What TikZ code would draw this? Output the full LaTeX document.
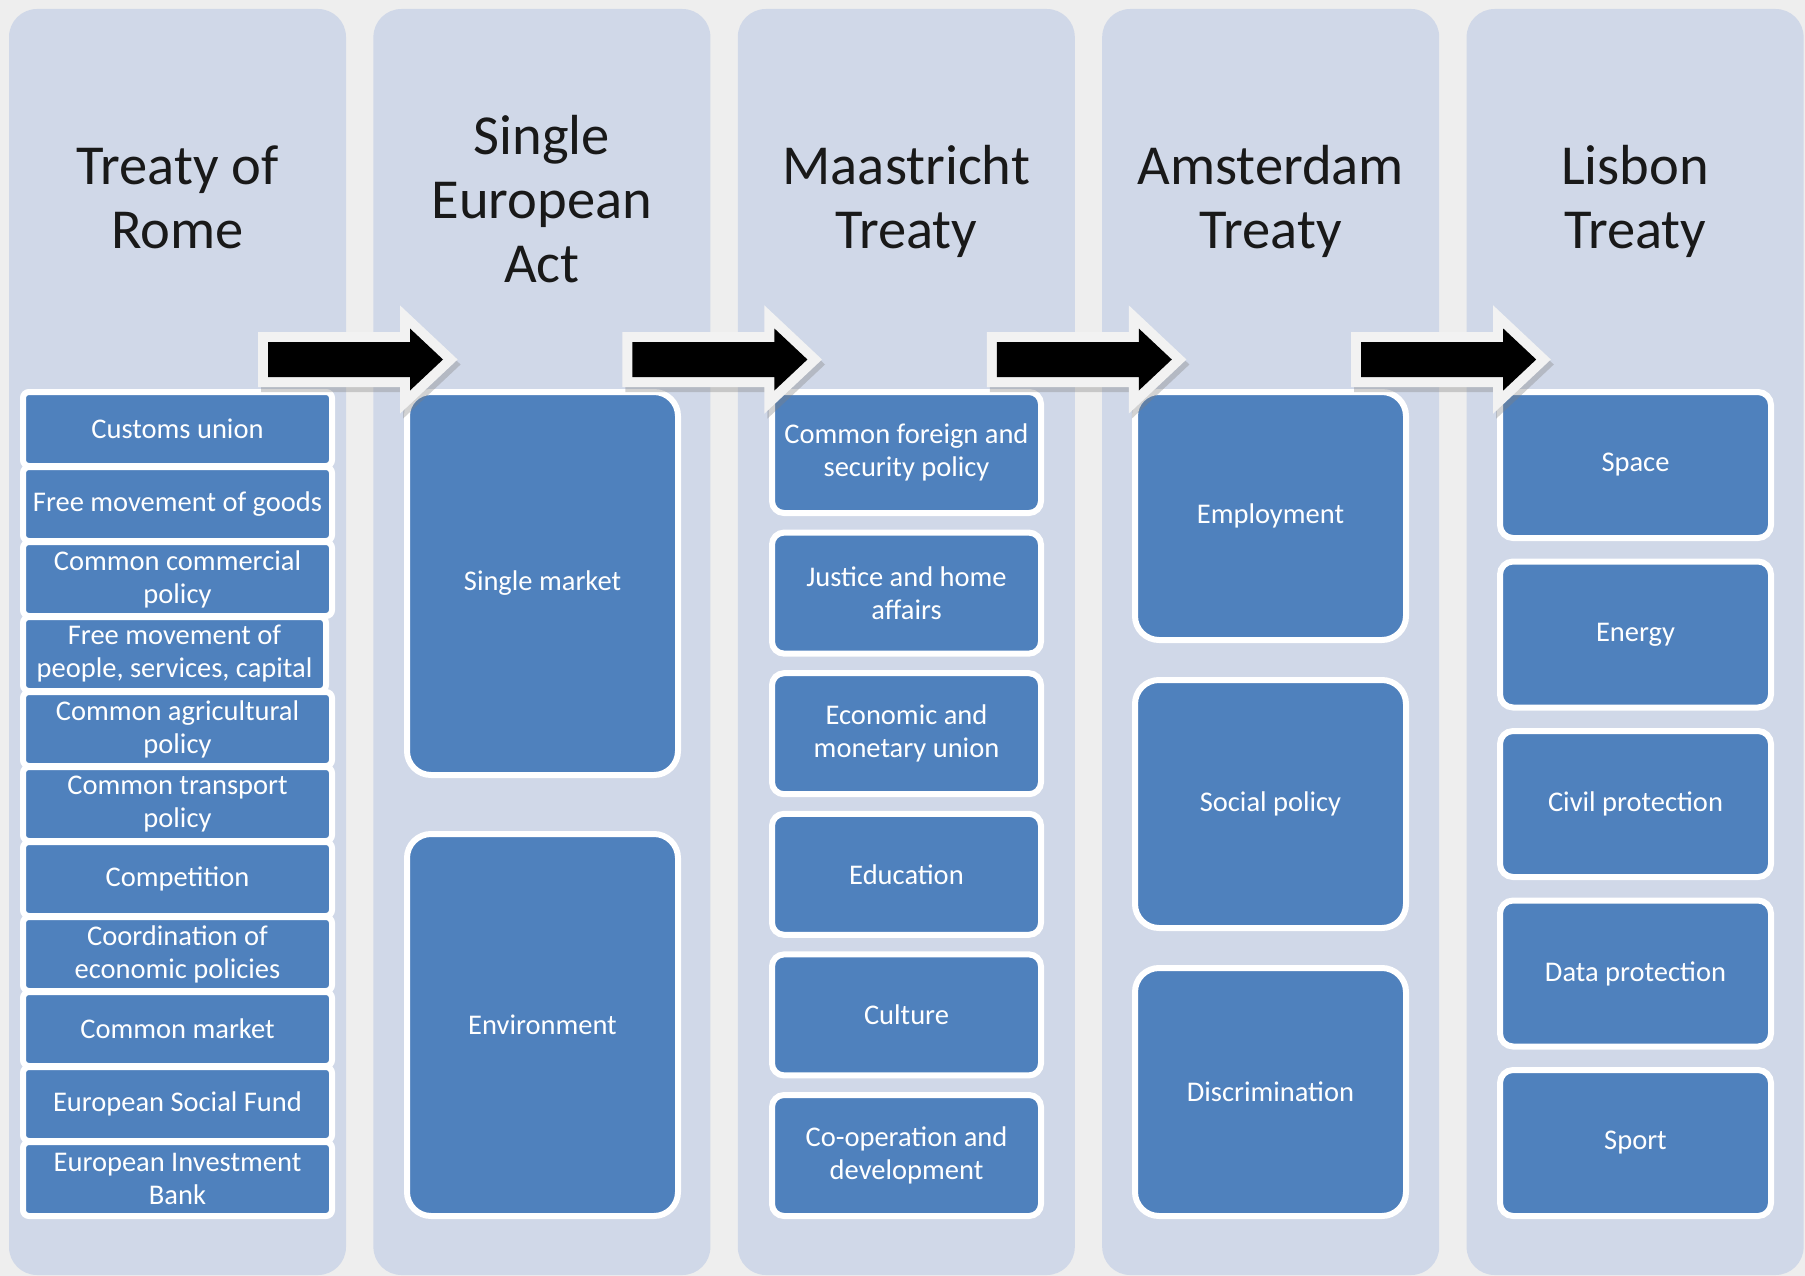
\documentclass[tikz,border=0pt]{standalone}
\usepackage{fontspec}
\setmainfont{Carlito}
\definecolor{pagebg}{HTML}{EEEEEE}
\definecolor{colbg}{HTML}{D0D8E8}
\definecolor{boxblue}{HTML}{4F81BD}
\definecolor{arrowedge}{HTML}{F2F2F2}
\newcommand{\myTitleFont}{\fontsize{56.5pt}{64pt}\selectfont}
\newcommand{\myBoxFont}{\fontsize{28.5pt}{33pt}\selectfont}
\tikzset{
  colshape/.style={fill=colbg, rounded corners=28pt, minimum width=337pt, minimum height=1266pt, inner sep=0pt, outer sep=0pt},
  title/.style={font=\myTitleFont, align=center, anchor=base, inner sep=0pt, text=black!90},
  item/.style={draw=white, line width=6pt, fill=boxblue, text=white, align=center, inner sep=0pt, font=\myBoxFont},
  itemA/.style={item, rounded corners=6pt, minimum width=309pt, minimum height=74pt},
  itemB/.style={item, rounded corners=24pt, minimum width=271pt},
  itemC/.style={item, rounded corners=12pt, minimum width=269pt, minimum height=121pt},
  itemD/.style={item, rounded corners=24pt, minimum width=271pt, minimum height=248pt},
  itemE/.style={item, rounded corners=13pt, minimum width=271pt, minimum height=146pt},
  arrowshadow/.style={draw=gray, fill=gray, line width=20pt, line join=miter, opacity=0.35},
  arrowrim/.style={draw=arrowedge, fill=arrowedge, line width=20pt, line join=miter},
  arrowbody/.style={fill=black},
}
\begin{document}
\begin{tikzpicture}[x=1pt,y=-1pt]
\useasboundingbox (0,0) rectangle (1805,1276);
\fill[pagebg] (0,0) rectangle (1805,1276);

% columns
\node[colshape] (c1) at (177.5,642) {};
\node[colshape] (c2) at (541.9,642) {};
\node[colshape] (c3) at (906.3,642) {};
\node[colshape] (c4) at (1270.7,642) {};
\node[colshape] (c5) at (1635.1,642) {};

% titles (anchor base = baseline of the last line)
\node[title] (t1) at (177.5,248) {Treaty of\\Rome};
\node[title] (t2) at (541.9,282) {Single\\European\\Act};
\node[title] (t3) at (906.3,248) {Maastricht\\Treaty};
\node[title] (t4) at (1270.7,248) {Amsterdam\\Treaty};
\node[title] (t5) at (1635.1,248) {Lisbon\\Treaty};

% column 1
\node[itemA] (r1) at (177.5,429) {Customs union};
\node[itemA] (r2) at (177.5,504) {Free movement of goods};
\node[itemA] (r3) at (177.5,579) {Common commercial\\policy};
\node[itemA, minimum width=303pt] (r4) at (174.5,654) {Free movement of\\people, services, capital};
\node[itemA] (r5) at (177.5,729) {Common agricultural\\policy};
\node[itemA] (r6) at (177.5,804) {Common transport\\policy};
\node[itemA] (r7) at (177.5,879) {Competition};
\node[itemA] (r8) at (177.5,954) {Coordination of\\economic policies};
\node[itemA] (r9) at (177.5,1029) {Common market};
\node[itemA] (r10) at (177.5,1104) {European Social Fund};
\node[itemA] (r11) at (177.5,1179) {European Investment\\Bank};

% column 2
\node[itemB, minimum height=383pt] (s1) at (542.5,583.5) {Single market};
\node[itemB, minimum height=382pt] (s2) at (542.5,1025) {Environment};

% column 3
\node[itemC] (m1) at (906.5,452.5) {Common foreign and\\security policy};
\node[itemC] (m2) at (906.5,593.1) {Justice and home\\affairs};
\node[itemC] (m3) at (906.5,733.7) {Economic and\\monetary union};
\node[itemC] (m4) at (906.5,874.3) {Education};
\node[itemC] (m5) at (906.5,1014.9) {Culture};
\node[itemC] (m6) at (906.5,1155.5) {Co-operation and\\development};

% column 4
\node[itemD] (a1) at (1270.5,516) {Employment};
\node[itemD] (a2) at (1270.5,804) {Social policy};
\node[itemD] (a3) at (1270.5,1092) {Discrimination};

% column 5
\node[itemE] (l1) at (1635.5,465) {Space};
\node[itemE] (l2) at (1635.5,634.5) {Energy};
\node[itemE] (l3) at (1635.5,804) {Civil protection};
\node[itemE] (l4) at (1635.5,973.5) {Data protection};
\node[itemE] (l5) at (1635.5,1143) {Sport};

% block arrows
\foreach \x in {268,632.4,996.8,1361.2} {
  \begin{scope}[shift={(\x,359.5)}]
    \path[arrowshadow, shift={(3,5)}] (0,-17.5) -- (142,-17.5) -- (142,-31) -- (175,0) -- (142,31) -- (142,17.5) -- (0,17.5) -- cycle;
    \path[arrowrim] (0,-17.5) -- (142,-17.5) -- (142,-31) -- (175,0) -- (142,31) -- (142,17.5) -- (0,17.5) -- cycle;
    \path[arrowbody] (0,-17.5) -- (142,-17.5) -- (142,-31) -- (175,0) -- (142,31) -- (142,17.5) -- (0,17.5) -- cycle;
  \end{scope}
}
\end{tikzpicture}
\end{document}
